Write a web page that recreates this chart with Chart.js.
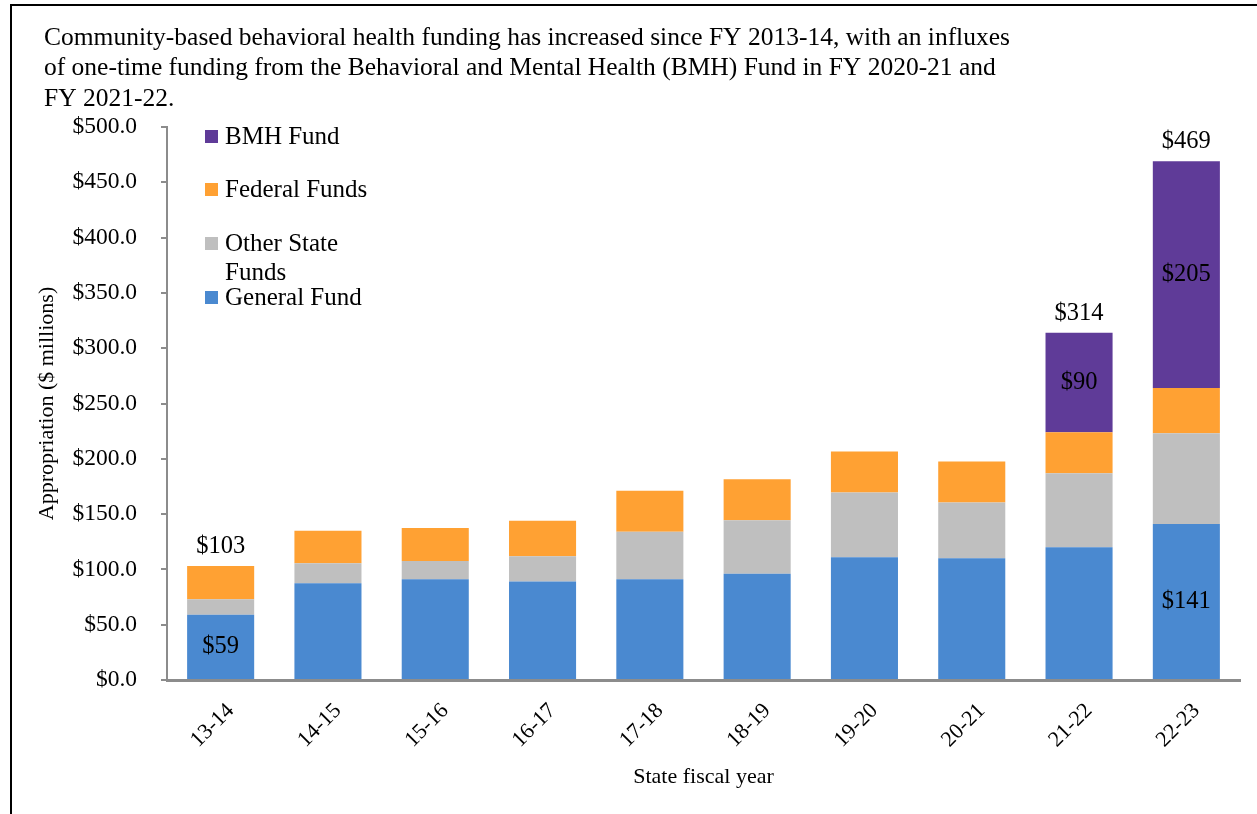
<!DOCTYPE html>
<html>
<head>
<meta charset="utf-8">
<script src="https://cdn.jsdelivr.net/npm/chart.js@4/dist/chart.umd.min.js"></script>
<style>
  html, body { margin: 0; padding: 0; background: #fff; }
  #wrap { position: relative; width: 1257px; height: 814px; overflow: hidden; }
  #frame { position: absolute; left: 10px; top: 4px; width: 1300px; height: 900px;
           border-left: 2px solid #000; border-top: 2px solid #000; }
  canvas { position: absolute; left: 0; top: 0; }
</style>
</head>
<body>
<div id="wrap">
  <div id="frame"></div>
  <canvas id="chart" width="1257" height="814"></canvas>
</div>
<script>
// Fiscal years
const years = ['13-14', '14-15', '15-16', '16-17', '17-18', '18-19', '19-20', '20-21', '21-22', '22-23'];

// Appropriations by source, $ millions
const generalFund  = [59, 87.5, 91, 89, 91, 96, 111, 110, 120, 141];
const otherState   = [14, 18, 16.5, 23, 43, 48.5, 58.5, 50.5, 67, 82];
const federalFunds = [30, 29.5, 30, 32, 37, 37, 37, 37, 37, 41];
const bmhFund      = [null, null, null, null, null, null, null, null, 90, 205];

// Bars that carry value callouts
const generalLabelIdx = [0, 9];
const bmhLabelIdx = [8, 9];
const totalLabelIdx = [0, 8, 9];

// Y axis range
const yMin = 0, yMax = 500, yStep = 50;

// Headline, one entry per line
const headline = [
  'Community-based behavioral health funding has increased since FY 2013-14, with an influxes',
  'of one-time funding from the Behavioral and Mental Health (BMH) Fund in FY 2020-21 and',
  'FY 2021-22.'
];

const SERIF = '"Liberation Serif", "Times New Roman", serif';

const totals = years.map((_, i) =>
  (generalFund[i] || 0) + (otherState[i] || 0) + (federalFunds[i] || 0) + (bmhFund[i] || 0));

const money = v => '$' + Math.round(v);

// Headline text above the plot
const headlinePlugin = {
  id: 'headline',
  afterDraw(chart) {
    const ctx = chart.ctx;
    ctx.save();
    ctx.font = '25.5px ' + SERIF;
    ctx.fillStyle = '#000';
    ctx.textAlign = 'left';
    ctx.textBaseline = 'middle';
    headline.forEach((line, k) => ctx.fillText(line, 44, 38 + k * 30.5));
    ctx.restore();
  }
};

// Value callouts: segment values inside bars, totals above stacks
const calloutPlugin = {
  id: 'callouts',
  afterDatasetsDraw(chart) {
    const ctx = chart.ctx;
    const y = chart.scales.y;
    ctx.save();
    ctx.font = '24.5px ' + SERIF;
    ctx.fillStyle = '#000';
    ctx.textAlign = 'center';
    const segs = [[0, generalLabelIdx, generalFund], [3, bmhLabelIdx, bmhFund]];
    segs.forEach(([dsIdx, idxs, values]) => {
      const meta = chart.getDatasetMeta(dsIdx);
      idxs.forEach(i => {
        const bar = meta.data[i];
        ctx.textBaseline = 'middle';
        ctx.fillText(money(values[i]), bar.x, (bar.y + bar.base) / 2);
      });
    });
    const topMeta = chart.getDatasetMeta(0);
    totalLabelIdx.forEach(i => {
      const x = topMeta.data[i].x;
      ctx.textBaseline = 'bottom';
      ctx.fillText(money(totals[i]), x, y.getPixelForValue(totals[i]) - 7);
    });
    ctx.restore();
  }
};

// Legend drawn inside the plot, top series first
const legendPlugin = {
  id: 'insetLegend',
  afterDraw(chart) {
    const ctx = chart.ctx;
    const rows = [137, 190, 244, 298];
    const maxTextWidth = 160;
    ctx.save();
    ctx.font = '25px ' + SERIF;
    ctx.textBaseline = 'middle';
    ctx.textAlign = 'left';
    const order = chart.data.datasets.map((d, i) => i).reverse();
    order.forEach((dsIdx, r) => {
      const ds = chart.data.datasets[dsIdx];
      const cy = rows[r];
      ctx.fillStyle = ds.backgroundColor;
      ctx.fillRect(205, cy - 7, 13, 13);
      ctx.fillStyle = '#000';
      // wrap words to the legend width
      const words = ds.label.split(' ');
      const lines = [];
      let line = '';
      words.forEach(w => {
        const test = line ? line + ' ' + w : w;
        if (ctx.measureText(test).width > maxTextWidth && line) { lines.push(line); line = w; }
        else line = test;
      });
      lines.push(line);
      lines.forEach((l, k) => ctx.fillText(l, 225, cy + k * 29));
    });
    ctx.restore();
  }
};

const AXIS_GRAY = '#8c8c8c';

new Chart(document.getElementById('chart'), {
  type: 'bar',
  data: {
    labels: years,
    datasets: [
      { label: 'General Fund', data: generalFund, backgroundColor: '#4a89d0' },
      { label: 'Other State Funds', data: otherState, backgroundColor: '#bfbfbf' },
      { label: 'Federal Funds', data: federalFunds, backgroundColor: '#ffa133' },
      { label: 'BMH Fund', data: bmhFund, backgroundColor: '#5f3b98' }
    ]
  },
  options: {
    responsive: false,
    animation: false,
    devicePixelRatio: 1,
    layout: { padding: { left: 0, right: 17, top: 127, bottom: 0 } },
    datasets: { bar: { categoryPercentage: 0.625, barPercentage: 1, borderWidth: 0 } },
    plugins: { legend: { display: false }, tooltip: { enabled: false }, title: { display: false } },
    scales: {
      x: {
        stacked: true,
        grid: { display: false },
        border: { color: AXIS_GRAY, width: 3 },
        ticks: {
          color: '#000', font: { family: SERIF, size: 22 },
          minRotation: 45, maxRotation: 45, padding: 10, labelOffset: 10
        },
        title: {
          display: true, text: 'State fiscal year', color: '#000',
          font: { family: SERIF, size: 22 }, padding: { top: 0, bottom: 24 }
        },
        afterFit(scale) { scale.height = 134; }
      },
      y: {
        stacked: true,
        min: yMin, max: yMax,
        grid: { drawOnChartArea: false, drawTicks: true, tickLength: 6, color: AXIS_GRAY, lineWidth: 2 },
        border: { color: AXIS_GRAY, width: 2 },
        ticks: {
          stepSize: yStep, color: '#000', font: { family: SERIF, size: 23.5 }, padding: 24,
          callback: v => '$' + Number(v).toFixed(1)
        },
        title: {
          display: true, text: 'Appropriation ($ millions)', color: '#000',
          font: { family: SERIF, size: 22 }, padding: { top: 34, bottom: 0 }
        },
        afterFit(scale) { scale.width = 167; }
      }
    }
  },
  plugins: [calloutPlugin, legendPlugin, headlinePlugin]
});
</script>
</body>
</html>
